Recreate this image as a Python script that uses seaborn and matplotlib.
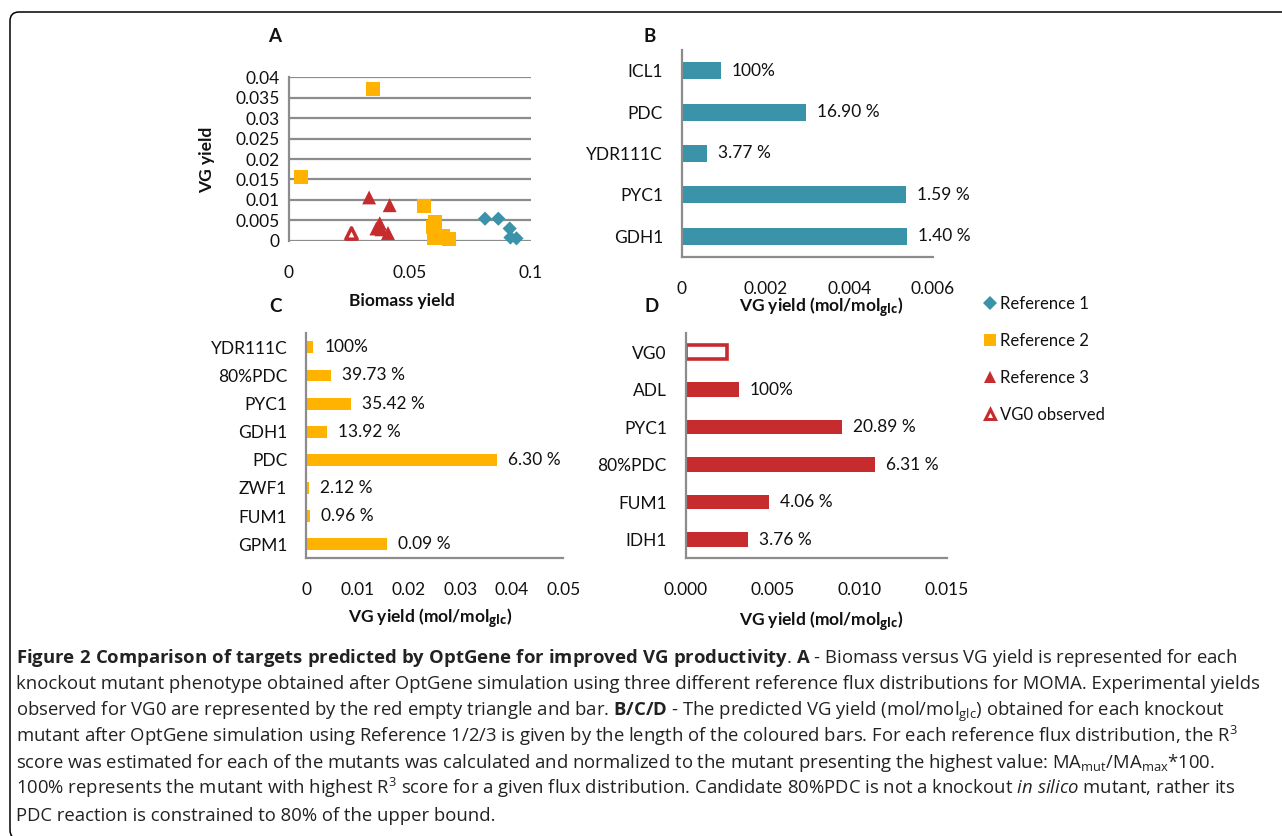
import numpy as np
import pandas as pd
import matplotlib
matplotlib.use("Agg")
import matplotlib.pyplot as plt
import seaborn as sns
from matplotlib import font_manager
from matplotlib.patches import FancyBboxPatch
from matplotlib.lines import Line2D
from matplotlib.transforms import IdentityTransform

# ---------------- data ----------------
# Panel A (Biomass yield vs VG yield)
ref1_x = [0.0810, 0.0865, 0.0912, 0.0915, 0.0940]
ref1_y = [0.0054, 0.0054, 0.0030, 0.0008, 0.0006]
ref2_x = [0.0347, 0.0051, 0.0558, 0.0602, 0.0595, 0.0600, 0.0610, 0.0636, 0.0660]
ref2_y = [0.0371, 0.0157, 0.0086, 0.0047, 0.0034, 0.0006, 0.0006, 0.0011, 0.0005]
ref3_x = [0.0331, 0.0416, 0.0375, 0.0361, 0.0382, 0.0409]
ref3_y = [0.0106, 0.0087, 0.0043, 0.0030, 0.0028, 0.0019]
vg0_x = [0.0258]
vg0_y = [0.0018]
a_yticks = [0, 0.005, 0.01, 0.015, 0.02, 0.025, 0.03, 0.035, 0.04]
a_yticklabels = ["0", "0.005", "0.01", "0.015", "0.02", "0.025", "0.03", "0.035", "0.04"]
a_xticks = [0, 0.05, 0.1]
a_xticklabels = ["0", "0.05", "0.1"]

# Panel B (Reference 1)
b_cats = ["ICL1", "PDC", "YDR111C", "PYC1", "GDH1"]
b_vals = [0.00093, 0.00297, 0.00061, 0.00535, 0.00539]
b_labels = ["100%", "16.90 %", "3.77 %", "1.59 %", "1.40 %"]
b_xticks = [0, 0.002, 0.004, 0.006]
b_xticklabels = ["0", "0.002", "0.004", "0.006"]

# Panel C (Reference 2)
c_cats = ["YDR111C", "80%PDC", "PYC1", "GDH1", "PDC", "ZWF1", "FUM1", "GPM1"]
c_vals = [0.00143, 0.00486, 0.0088, 0.0040, 0.0371, 0.00058, 0.00078, 0.0157]
c_labels = ["100%", "39.73 %", "35.42 %", "13.92 %", "6.30 %", "2.12 %", "0.96 %", "0.09 %"]
c_xticks = [0, 0.01, 0.02, 0.03, 0.04, 0.05]
c_xticklabels = ["0", "0.01", "0.02", "0.03", "0.04", "0.05"]

# Panel D (Reference 3)
d_cats = ["VG0", "ADL", "PYC1", "80%PDC", "FUM1", "IDH1"]
d_vals = [0.00236, 0.00306, 0.0090, 0.01088, 0.00479, 0.00356]
d_labels = ["", "100%", "20.89 %", "6.31 %", "4.06 %", "3.76 %"]
d_xticks = [0, 0.005, 0.010, 0.015]
d_xticklabels = ["0.000", "0.005", "0.010", "0.015"]

legend_labels = ["Reference 1", "Reference 2", "Reference 3", "VG0 observed"]

caption_lines = [
    r"$\mathbf{Figure\ 2\ Comparison\ of\ targets\ predicted\ by\ OptGene\ for\ improved\ VG\ productivity}$. $\mathbf{A}$ - Biomass versus VG yield is represented for each",
    "knockout mutant phenotype obtained after OptGene simulation using three different reference flux distributions for MOMA. Experimental yields",
    r"observed for VG0 are represented by the red empty triangle and bar. $\mathbf{B/C/D}$ - The predicted VG yield (mol/mol$_{\mathrm{glc}}$) obtained for each knockout",
    r"mutant after OptGene simulation using Reference 1/2/3 is given by the length of the coloured bars. For each reference flux distribution, the R$^{3}$",
    r"score was estimated for each of the mutants was calculated and normalized to the mutant presenting the highest value: MA$_{\mathrm{mut}}$/MA$_{\mathrm{max}}$*100.",
    r"100% represents the mutant with highest R$^{3}$ score for a given flux distribution. Candidate 80%PDC is not a knockout $\mathit{in\ silico}$ mutant, rather its",
    "PDC reaction is constrained to 80% of the upper bound.",
]

# ---------------- style ----------------
TEAL = "#3A93A8"
ORANGE = "#FFB300"
RED = "#C62B2E"
GRID = "#8C8C8C"
TXT = "#111111"

sns.set_theme(style="white")
names = {f.name for f in font_manager.fontManager.ttflist}
chart_font = "Lato" if "Lato" in names else "DejaVu Sans"
cap_font = "Open Sans" if "Open Sans" in names else "DejaVu Sans"
plt.rcParams["font.family"] = [chart_font, "DejaVu Sans"]
plt.rcParams["mathtext.fontset"] = "custom"
plt.rcParams["mathtext.rm"] = cap_font
plt.rcParams["mathtext.it"] = cap_font + ":italic"
plt.rcParams["mathtext.bf"] = cap_font + ":bold"
plt.rcParams["text.color"] = TXT

W, H = 1282, 836
fig = plt.figure(figsize=(W / 100, H / 100), dpi=100)
fig.patch.set_facecolor("white")


def px_axes(l, t, r, b):
    return fig.add_axes([l / W, 1 - b / H, (r - l) / W, (b - t) / H])


def ftext(x, y, s, **kw):
    return fig.text(x / W, 1 - y / H, s, **kw)


FS = 12.5

# frame
frame = FancyBboxPatch((10, -3), 1300, 836 - 12 + 3,
                       boxstyle="round,pad=0,rounding_size=9",
                       transform=IdentityTransform(), facecolor="none",
                       edgecolor="black", linewidth=1.1)
fig.patches.append(frame)

# ---------------- Panel A ----------------
axA = px_axes(289, 77, 531, 241)
dfA = pd.DataFrame({
    "x": ref1_x + ref2_x + ref3_x,
    "y": ref1_y + ref2_y + ref3_y,
    "series": [legend_labels[0]] * len(ref1_x) + [legend_labels[1]] * len(ref2_x) + [legend_labels[2]] * len(ref3_x),
})
sns.scatterplot(data=dfA, x="x", y="y", hue="series", style="series", size="series",
                palette={legend_labels[0]: TEAL, legend_labels[1]: ORANGE, legend_labels[2]: RED},
                markers={legend_labels[0]: "D", legend_labels[1]: "s", legend_labels[2]: "^"},
                sizes={legend_labels[0]: 52, legend_labels[1]: 100, legend_labels[2]: 100},
                linewidth=0, legend=False, ax=axA, clip_on=False, zorder=3)
sns.scatterplot(x=vg0_x, y=vg0_y, marker="^", s=66, color="white", edgecolor=RED,
                linewidth=2.5, legend=False, ax=axA, clip_on=False, zorder=3)
axA.set_xlim(0, 0.1)
axA.set_ylim(-0.00005, 0.04005)
axA.set_yticks(a_yticks)
axA.set_yticklabels(a_yticklabels)
axA.set_xticks(a_xticks)
axA.set_xticklabels(a_xticklabels)
axA.grid(axis="y", color=GRID, lw=1.6)
axA.grid(axis="x", visible=False)
axA.set_axisbelow(True)
for s in ["top", "right", "bottom"]:
    axA.spines[s].set_visible(False)
axA.spines["left"].set_color(GRID)
axA.spines["left"].set_linewidth(1.6)
axA.tick_params(axis="y", length=0, pad=6.5, labelsize=FS, colors=TXT)
axA.tick_params(axis="x", length=0, pad=17, labelsize=FS, colors=TXT)
axA.set_xlabel("")
axA.set_ylabel("")
axA.set_facecolor("none")

ftext(275, 37, "A", fontsize=13.5, fontweight="bold", ha="center", va="center")
ftext(402, 301, "Biomass yield", fontsize=FS, fontweight="bold", ha="center", va="center")
ftext(207, 160, "VG yield", fontsize=FS, fontweight="bold", ha="center", va="center", rotation=90)


# ---------------- bar panels ----------------
def bar_panel(box, cats, vals, labels, color, xlim, xticks, xticklabels, width):
    ax = px_axes(*box)
    sns.barplot(x=vals, y=cats, color=color, saturation=1, width=width, linewidth=0,
                ax=ax, orient="h")
    ax.set_xlim(*xlim)
    ax.set_xticks(xticks)
    ax.set_xticklabels(xticklabels)
    ax.set_xlabel("")
    ax.set_ylabel("")
    for s in ["top", "right"]:
        ax.spines[s].set_visible(False)
    for s in ["left", "bottom"]:
        ax.spines[s].set_color(GRID)
        ax.spines[s].set_linewidth(1.6)
    ax.tick_params(axis="y", length=0, pad=13.5, labelsize=FS, colors=TXT)
    ax.tick_params(axis="x", length=0, pad=17, labelsize=FS, colors=TXT)
    ax.set_facecolor("none")
    for i, (v, lab) in enumerate(zip(vals, labels)):
        if lab:
            ax.annotate(lab, xy=(v, i), xytext=(11, 0), textcoords="offset pixels",
                        ha="left", va="center", fontsize=FS, color=TXT, annotation_clip=False)
    return ax


xlab = r"VG yield (mol/mol$_{\mathbf{glc}}$)"

axB = bar_panel((681.7, 50, 933, 257), b_cats, b_vals, b_labels, TEAL, (0, 0.006),
                b_xticks, b_xticklabels, 0.41)
ftext(650, 37, "B", fontsize=13.5, fontweight="bold", ha="center", va="center")
ftext(821, 307, xlab, fontsize=FS, fontweight="bold", ha="center", va="center")

axC = bar_panel((306, 333.3, 563.3, 558.3), c_cats, c_vals, c_labels, ORANGE, (0, 0.05),
                c_xticks, c_xticklabels, 0.42)
ftext(275, 306, "C", fontsize=13.5, fontweight="bold", ha="center", va="center")
ftext(430, 618, xlab, fontsize=FS, fontweight="bold", ha="center", va="center")

axD = bar_panel((685.7, 333.3, 946.7, 558.3), d_cats, d_vals, d_labels, RED, (0, 0.015),
                d_xticks, d_xticklabels, 0.39)
vg_bar = axD.patches[0]
vg_bar.set_facecolor("white")
vg_bar.set_edgecolor(RED)
vg_bar.set_linewidth(2.6)
ftext(652, 307, "D", fontsize=13.5, fontweight="bold", ha="center", va="center")
ftext(821, 621, xlab, fontsize=FS, fontweight="bold", ha="center", va="center")

# ---------------- legend ----------------
handles = [
    Line2D([], [], ls="none", marker="D", markersize=6.8, color=TEAL, markeredgewidth=0),
    Line2D([], [], ls="none", marker="s", markersize=9, color=ORANGE, markeredgewidth=0),
    Line2D([], [], ls="none", marker="^", markersize=9, color=RED, markeredgewidth=0),
    Line2D([], [], ls="none", marker="^", markersize=7.5, markerfacecolor="white",
           markeredgecolor=RED, markeredgewidth=2.2),
]
fig.legend(handles, legend_labels, loc="upper left",
           bbox_to_anchor=(983 / W, 1 - 296 / H), frameon=False, fontsize=12,
           handlelength=0.8, handletextpad=0.25, labelspacing=1.25, borderpad=0,
           borderaxespad=0)

# ---------------- caption ----------------
renderer = fig.canvas.get_renderer()
widths = []
for line in caption_lines:
    probe = ftext(16, 658, line, fontsize=12, family=cap_font)
    widths.append(probe.get_window_extent(renderer).width)
    probe.remove()
cap_fs = 12 * 1238 / max(widths)
y0, dy = 658, 26.3
for i, line in enumerate(caption_lines):
    ftext(16, y0 + i * dy + 5, line, fontsize=cap_fs, family=cap_font, ha="left",
          va="baseline", color="#222222")

fig.savefig("out.png", dpi=100, facecolor="white")
